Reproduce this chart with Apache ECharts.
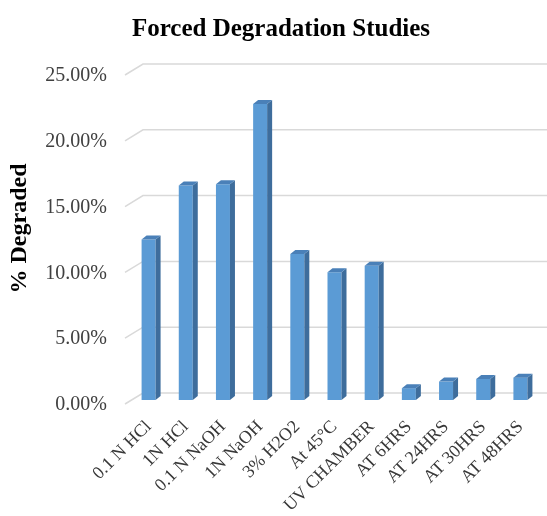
<!DOCTYPE html>
<html>
<head>
<meta charset="utf-8">
<script src="https://cdn.jsdelivr.net/npm/echarts@6/dist/echarts.min.js"></script>
<style>html,body{margin:0;padding:0;background:#fff}#c{width:547px;height:516px}</style>
</head>
<body>
<div id="c"></div>
<script>
const categories = ['0.1 N HCl', '1N HCl', '0.1 N NaOH', '1N NaOH', '3% H2O2', 'At 45°C', 'UV CHAMBER', 'AT 6HRS', 'AT 24HRS', 'AT 30HRS', 'AT 48HRS'];
const degraded = [12.2, 16.3, 16.4, 22.5, 11.1, 9.7, 10.2, 0.9, 1.4, 1.6, 1.7];
const yTicks = [0, 5, 10, 15, 20, 25];

const chart = echarts.init(document.getElementById('c'), null, {renderer: 'canvas'});
const serif = '"Liberation Serif", "Times New Roman", serif';

chart.setOption({
  animation: false,
  backgroundColor: '#fff',
  title: {
    text: 'Forced Degradation Studies',
    left: 276, top: 12, textAlign: 'center',
    textStyle: {fontFamily: serif, fontWeight: 'bold', fontSize: 25, color: '#000'}
  },
  grid: {left: 130, right: 8, top: 64, bottom: 123, containLabel: false, outerBoundsMode: 'none'},
  xAxis: {
    type: 'category', data: categories,
    axisLine: {show: false}, axisTick: {show: false},
    axisLabel: {interval: 0, rotate: 45, margin: 31, verticalAlign: 'middle',
      fontFamily: serif, fontSize: 18, color: '#383838'}
  },
  yAxis: {
    type: 'value', min: 0, max: 25, interval: 5,
    name: '% Degraded', nameLocation: 'middle', nameRotate: 90, nameGap: 98,
    nameTextStyle: {fontFamily: serif, fontWeight: 'bold', fontSize: 24, color: '#000'},
    axisLine: {show: false}, axisTick: {show: false}, splitLine: {show: false},
    axisLabel: {margin: 23, verticalAlign: 'top', lineHeight: 24, fontFamily: serif, fontSize: 20, color: '#404040',
      formatter: v => v.toFixed(2) + '%'}
  },
  series: [
    {
      type: 'custom', z: 1, silent: true,
      data: yTicks.map(t => [0, t]),
      renderItem: function (params, api) {
        const cs = params.coordSys;
        const y = api.coord([0, api.value(1)])[1];
        return {
          type: 'polyline',
          shape: {points: [[cs.x - 5, y + 11], [cs.x + 13, y], [cs.x + cs.width + 10, y]]},
          style: {stroke: '#D9D9D9', lineWidth: 1.5, fill: null}
        };
      }
    },
    {
      type: 'custom', z: 2,
      data: degraded.map((v, i) => [i, v]),
      renderItem: function (params, api) {
        const i = api.value(0), v = api.value(1);
        const x = api.coord([i, 0])[0];
        const yb = api.coord([i, 0])[1] + 7;
        const yt = api.coord([i, v])[1] + 7;
        const hw = 7, dx = 5, dy = 4;
        return {
          type: 'group',
          children: [
            {type: 'rect', shape: {x: x - hw, y: yt, width: 2 * hw, height: yb - yt},
              style: {fill: '#5B9BD5'}},
            {type: 'polygon', shape: {points: [[x + hw, yt], [x + hw + dx, yt - dy], [x + hw + dx, yb - dy], [x + hw, yb]]},
              style: {fill: '#3E6D9C'}},
            {type: 'polygon', shape: {points: [[x - hw, yt], [x - hw + dx, yt - dy], [x + hw + dx, yt - dy], [x + hw, yt]]},
              style: {fill: '#4A80B8'}}
          ]
        };
      }
    }
  ]
});
</script>
</body>
</html>
